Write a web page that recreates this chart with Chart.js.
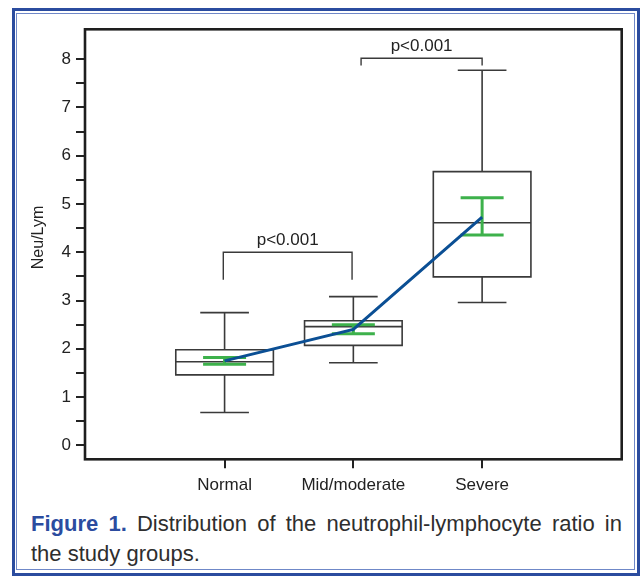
<!DOCTYPE html>
<html>
<head>
<meta charset="utf-8">
<title>Neu/Lym by group</title>
<script src="https://cdn.jsdelivr.net/npm/chart.js@4.4.1/dist/chart.umd.min.js"></script>
<style>
  body { margin: 0; background: #fff; font-family: "Liberation Sans", Arial, sans-serif; }
  .frame-outer { position: absolute; left: 12px; top: 8px; width: 628px; height: 568px; box-sizing: border-box; border: 3px solid #2b4c9f; }
  .frame-inner { position: absolute; left: 16px; top: 13px; width: 619px; height: 557px; box-sizing: border-box; border: 1px solid #6f88c8; }
  .chart-box { position: absolute; left: 18px; top: 14px; width: 616px; height: 490px; }
  .caption { position: absolute; left: 31px; top: 509px; width: 591px; font-size: 22px; line-height: 30px; color: #2e2e2e; text-align: justify; text-align-last: left; }
  .caption b { color: #2b4c9f; }
</style>
</head>
<body>
<div class="frame-outer"></div>
<div class="frame-inner"></div>
<div class="chart-box"><canvas id="boxChart"></canvas></div>
<div class="caption"><b>Figure 1.</b> Distribution of the neutrophil-lymphocyte ratio in the study groups.</div>
<script>
// groups and box plot statistics
var groups      = ['Normal', 'Mid/moderate', 'Severe'];
var groupPos    = [1, 2, 3];
var whiskerLow  = [0.68, 1.71, 2.96];
var q1          = [1.46, 2.07, 3.49];
var median      = [1.73, 2.46, 4.61];
var q3          = [1.98, 2.58, 5.67];
var whiskerHigh = [2.75, 3.08, 7.77];
// mean with confidence interval
var meanValues  = [1.75, 2.40, 4.73];
var ciLow       = [1.68, 2.31, 4.36];
var ciHigh      = [1.82, 2.50, 5.13];
// significance brackets
var pLabels     = ['p<0.001', 'p<0.001'];
var bracketFrom = [0.99, 2.06];
var bracketTo   = [1.99, 3.00];
var bracketTop  = [4.00, 8.02];
var bracketLeg  = [3.43, 7.87];
// y axis ticks (labelled at whole numbers)
var yTicks      = [0, 0.5, 1, 1.5, 2, 2.5, 3, 3.5, 4, 4.5, 5, 5.5, 6, 6.5, 7, 7.5, 8];

var boxHalf = 0.379, capHalf = 0.189, ciHalf = 0.167;

var boxPlugin = {
    id: 'boxes',
    beforeDatasetsDraw: function(chart) {
        var ctx = chart.ctx, xs = chart.scales.x, ys = chart.scales.y;
        ctx.save();
        ctx.strokeStyle = '#3a3a3a';
        ctx.lineWidth = 1.6;
        groupPos.forEach(function(p, i) {
            var c = xs.getPixelForValue(p);
            var l = xs.getPixelForValue(p - boxHalf), r = xs.getPixelForValue(p + boxHalf);
            var cl = xs.getPixelForValue(p - capHalf), cr = xs.getPixelForValue(p + capHalf);
            var yq1 = ys.getPixelForValue(q1[i]), yq3 = ys.getPixelForValue(q3[i]);
            var ymed = ys.getPixelForValue(median[i]);
            var ylo = ys.getPixelForValue(whiskerLow[i]), yhi = ys.getPixelForValue(whiskerHigh[i]);
            ctx.beginPath();
            ctx.rect(l, yq3, r - l, yq1 - yq3);
            ctx.moveTo(l, ymed); ctx.lineTo(r, ymed);
            ctx.moveTo(c, yq3); ctx.lineTo(c, yhi);
            ctx.moveTo(c, yq1); ctx.lineTo(c, ylo);
            ctx.moveTo(cl, yhi); ctx.lineTo(cr, yhi);
            ctx.moveTo(cl, ylo); ctx.lineTo(cr, ylo);
            ctx.stroke();
        });
        // mean confidence intervals
        ctx.strokeStyle = '#3db14b';
        ctx.lineWidth = 3;
        groupPos.forEach(function(p, i) {
            var c = xs.getPixelForValue(p);
            var l = xs.getPixelForValue(p - ciHalf), r = xs.getPixelForValue(p + ciHalf);
            var ya = ys.getPixelForValue(ciLow[i]), yb = ys.getPixelForValue(ciHigh[i]);
            ctx.beginPath();
            ctx.moveTo(l, yb); ctx.lineTo(r, yb);
            ctx.moveTo(l, ya); ctx.lineTo(r, ya);
            ctx.moveTo(c, ya); ctx.lineTo(c, yb);
            ctx.stroke();
        });
        ctx.restore();
    },
    afterDraw: function(chart) {
        var ctx = chart.ctx, xs = chart.scales.x, ys = chart.scales.y, a = chart.chartArea;
        ctx.save();
        // brackets
        ctx.strokeStyle = '#3a3a3a';
        ctx.lineWidth = 1.4;
        ctx.fillStyle = '#222';
        ctx.font = '17px "Liberation Sans", Arial, sans-serif';
        ctx.textAlign = 'center';
        ctx.textBaseline = 'alphabetic';
        pLabels.forEach(function(t, i) {
            var x1 = xs.getPixelForValue(bracketFrom[i]), x2 = xs.getPixelForValue(bracketTo[i]);
            var yt = ys.getPixelForValue(bracketTop[i]), yl = ys.getPixelForValue(bracketLeg[i]);
            ctx.beginPath();
            ctx.moveTo(x1, yl); ctx.lineTo(x1, yt); ctx.lineTo(x2, yt); ctx.lineTo(x2, yl);
            ctx.stroke();
            ctx.fillText(t, (x1 + x2) / 2, yt - 7);
        });
        // y axis title
        ctx.save();
        ctx.translate(21, 223.5);
        ctx.rotate(-Math.PI / 2);
        ctx.textBaseline = 'middle';
        ctx.font = '16px "Liberation Sans", Arial, sans-serif';
        ctx.fillText('Neu/Lym', 0, 0);
        ctx.restore();
        // plot frame
        ctx.strokeStyle = '#1e1e1e';
        ctx.lineWidth = 2.6;
        ctx.strokeRect(a.left, a.top, a.right - a.left, a.bottom - a.top);
        ctx.restore();
    }
};

var meanData = groupPos.map(function(p, i) { return { x: p, y: meanValues[i] }; });

var tickFont = { family: '"Liberation Sans", Arial, sans-serif', size: 17 };

new Chart(document.getElementById('boxChart').getContext('2d'), {
    type: 'line',
    data: {
        datasets: [{
            label       : 'Mean',
            data        : meanData,
            borderColor : '#0b4f94',
            borderWidth : 3,
            pointRadius : 0,
            tension     : 0,
            fill        : false
        }]
    },
    options: {
        responsive         : true,
        maintainAspectRatio: false,
        animation          : false,
        layout: { padding: { top: 15.3, right: 12.3, left: 0, bottom: 0 } },
        plugins: { legend: { display: false }, tooltip: { enabled: false } },
        scales: {
            x: {
                type: 'linear',
                min : -0.084,
                max : 4.084,
                afterBuildTicks: function(scale) {
                    scale.ticks = groupPos.map(function(v) { return { value: v }; });
                },
                afterFit: function(scale) { scale.height = 44.7; },
                ticks: {
                    autoSkip   : false,
                    maxRotation: 0,
                    padding    : 7,
                    color      : '#222',
                    font       : tickFont,
                    callback   : function(v) { return groups[groupPos.indexOf(v)]; }
                },
                grid  : { drawOnChartArea: false, tickLength: 9, color: '#222', lineWidth: 2 },
                border: { display: false }
            },
            y: {
                type: 'linear',
                min : -0.29,
                max : 8.62,
                afterBuildTicks: function(scale) {
                    scale.ticks = yTicks.map(function(v) { return { value: v }; });
                },
                afterFit: function(scale) { scale.width = 67; },
                ticks: {
                    autoSkip: false,
                    padding : 5,
                    color   : '#222',
                    font    : tickFont,
                    callback: function(v) { return Number.isInteger(v) ? v : ''; }
                },
                grid  : { drawOnChartArea: false, tickLength: 9, color: '#222', lineWidth: 2 },
                border: { display: false }
            }
        }
    },
    plugins: [boxPlugin]
});
</script>
</body>
</html>
